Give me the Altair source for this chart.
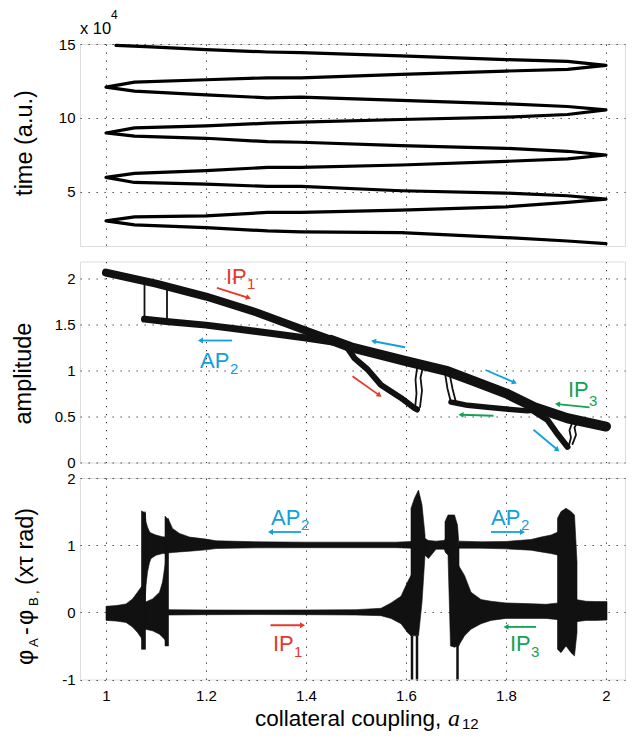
import altair as alt
import numpy as np
import pandas as pd

# ---------------- data ----------------
x_ticks = [1, 1.2, 1.4, 1.6, 1.8, 2]
time_ticks = [5, 10, 15]
amp_ticks = [0, 0.5, 1, 1.5, 2]
phase_ticks = [-1, 0, 1, 2]

# top panel: sweep of a12 vs time (x 1e4)
sweep_a12 = [
    2.0, 1.923, 1.80, 1.59, 1.39, 1.323, 1.2, 1.057, 1.0,
    1.057, 1.2, 1.323, 1.39, 1.59, 1.80, 1.923, 2.0,
    1.923, 1.80, 1.59, 1.39, 1.323, 1.2, 1.057, 1.0,
    1.057, 1.2, 1.323, 1.39, 1.59, 1.80, 1.923, 2.0,
    1.923, 1.80, 1.59, 1.39, 1.323, 1.2, 1.057, 1.0,
    1.057, 1.2, 1.323, 1.39, 1.59, 1.80, 1.923, 2.0,
    1.923, 1.80, 1.59, 1.39, 1.323, 1.2, 1.057, 1.0,
    1.057, 1.2, 1.323, 1.39, 1.59, 1.80, 1.923, 2.0,
    1.923, 1.80, 1.59, 1.39, 1.323, 1.2, 1.09, 1.02]
sweep_time = [
    1.49, 1.67, 1.90, 2.24, 2.29, 2.35, 2.58, 2.76, 3.03,
    3.30, 3.37, 3.60, 3.60, 3.76, 3.98, 4.28, 4.50,
    4.73, 4.91, 5.07, 5.36, 5.36, 5.52, 5.63, 5.97,
    6.24, 6.43, 6.65, 6.65, 6.81, 7.06, 7.22, 7.49,
    7.74, 7.94, 8.12, 8.35, 8.39, 8.62, 8.76, 8.98,
    9.32, 9.46, 9.64, 9.71, 9.89, 10.05, 10.23, 10.54,
    10.77, 10.95, 11.18, 11.40, 11.36, 11.56, 11.81, 12.08,
    12.42, 12.58, 12.71, 12.71, 12.94, 13.17, 13.28, 13.55,
    13.82, 13.94, 14.19, 14.41, 14.46, 14.62, 14.80, 14.91]

# middle panel: amplitude branches
bandA_x = [1.0, 1.1, 1.2, 1.3, 1.4, 1.45, 1.49, 1.6, 1.683, 1.737, 1.8, 1.857, 1.923, 2.0]
bandA_y = [2.06, 1.94, 1.80, 1.63, 1.43, 1.33, 1.25, 1.10, 0.99, 0.88, 0.75, 0.60, 0.48, 0.39]
bandB_x = [1.077, 1.12, 1.2, 1.325, 1.4, 1.46]
bandB_y = [1.555, 1.53, 1.49, 1.405, 1.35, 1.30]
dip1_x = [1.483, 1.497, 1.523, 1.55, 1.59, 1.617, 1.622]
dip1_y = [1.24, 1.13, 1.01, 0.84, 0.70, 0.59, 0.575]
ip3_x = [1.69, 1.70, 1.723, 1.763, 1.8, 1.843, 1.865]
ip3_y = [0.655, 0.645, 0.62, 0.60, 0.58, 0.56, 0.575]
dip3_x = [1.85, 1.883, 1.9, 1.923]
dip3_y = [0.575, 0.46, 0.33, 0.17]
jump1_x = [1.077, 1.077]; jump1_y = [1.95, 1.55]
jump2_x = [1.122, 1.122]; jump2_y = [1.89, 1.53]
jump3a_x = [1.618, 1.621, 1.619, 1.623]; jump3a_y = [0.58, 0.75, 0.90, 1.06]
jump3b_x = [1.628, 1.632, 1.629, 1.635]; jump3b_y = [0.60, 0.78, 0.92, 1.06]
jump4a_x = [1.678, 1.683, 1.690]; jump4a_y = [0.97, 0.80, 0.65]
jump4b_x = [1.687, 1.693, 1.700]; jump4b_y = [0.97, 0.80, 0.65]
jump5a_x = [1.925, 1.930, 1.927, 1.935]; jump5a_y = [0.17, 0.27, 0.35, 0.47]
jump5b_x = [1.933, 1.940, 1.937, 1.945]; jump5b_y = [0.20, 0.30, 0.38, 0.45]

# bottom panel: phase envelopes (x, low, high)
ip1fan_x = [1.0, 1.02, 1.04, 1.053, 1.063, 1.07, 1.075]
ip1fan_lo = [-0.12, -0.13, -0.15, -0.22, -0.30, -0.375, -0.45]
ip1fan_hi = [0.09, 0.10, 0.125, 0.20, 0.30, 0.375, 0.42]
spike1_x = [1.071, 1.079]; spike1_lo = [-0.55, -0.55]; spike1_hi = [1.51, 1.48]
ap2eye_x = [1.078, 1.08, 1.083, 1.087, 1.09, 1.1, 1.113, 1.121]
ap2eye_lo = [0.15, 0.40, 0.60, 0.74, 0.80, 0.85, 0.875, 0.875]
ap2eye_hi = [1.50, 1.35, 1.27, 1.20, 1.18, 1.15, 1.125, 1.12]
ip1eye_x = [1.078, 1.093, 1.107, 1.113, 1.117, 1.121]
ip1eye_lo = [-0.25, -0.275, -0.325, -0.37, -0.40, -0.45]
ip1eye_hi = [0.15, 0.20, 0.30, 0.45, 0.65, 0.85]
spike2_x = [1.118, 1.125]; spike2_lo = [-0.50, -0.50]; spike2_hi = [1.43, 1.38]
ap2mid_x = [1.124, 1.133, 1.147, 1.167, 1.2, 1.22, 1.3, 1.4, 1.5, 1.58, 1.61]
ap2mid_lo = [0.885, 0.89, 0.90, 0.91, 0.93, 0.95, 0.96, 0.962, 0.962, 0.962, 0.955]
ap2mid_hi = [1.40, 1.25, 1.175, 1.12, 1.09, 1.065, 1.05, 1.045, 1.045, 1.045, 1.055]
ip1mid_x = [1.124, 1.2, 1.3, 1.4, 1.5, 1.55, 1.57, 1.59, 1.603, 1.61]
ip1mid_lo = [-0.04, -0.035, -0.033, -0.035, -0.04, -0.05, -0.09, -0.17, -0.30, -0.35]
ip1mid_hi = [0.04, 0.035, 0.033, 0.035, 0.04, 0.06, 0.14, 0.24, 0.45, 0.55]
burst1_x = [1.61, 1.617, 1.625, 1.632, 1.638]
burst1_lo = [-0.35, -0.35, -0.35, 0.15, 0.85]
burst1_hi = [1.55, 1.70, 1.82, 1.60, 1.15]
ap2gap_x = [1.638, 1.645, 1.66, 1.675, 1.682]
ap2gap_lo = [0.85, 0.80, 0.94, 0.94, 0.90]
ap2gap_hi = [1.10, 1.07, 1.06, 1.07, 1.10]
burst2_x = [1.678, 1.684, 1.689, 1.697, 1.703, 1.706]
burst2_lo = [0.90, 0.85, -0.50, -0.52, -0.50, -0.50]
burst2_hi = [1.35, 1.45, 1.45, 1.45, 1.30, 1.00]
ap2right_x = [1.706, 1.75, 1.8, 1.85, 1.87, 1.89, 1.905]
ap2right_lo = [0.955, 0.955, 0.945, 0.925, 0.90, 0.875, 0.85]
ap2right_hi = [1.06, 1.05, 1.055, 1.085, 1.12, 1.15, 1.20]
ip3fan_x = [1.705, 1.717, 1.73, 1.75, 1.77, 1.8, 1.84, 1.88, 1.905]
ip3fan_lo = [-0.50, -0.35, -0.25, -0.17, -0.12, -0.09, -0.09, -0.09, -0.11]
ip3fan_hi = [0.70, 0.55, 0.30, 0.19, 0.165, 0.14, 0.13, 0.12, 0.14]
burst3_x = [1.903, 1.91, 1.92, 1.93, 1.937, 1.942]
burst3_lo = [-0.55, -0.60, -0.50, -0.60, -0.65, -0.30]
burst3_hi = [1.40, 1.50, 1.55, 1.50, 1.45, 0.75]
ip3end_x = [1.94, 1.96, 1.98, 2.002]
ip3end_lo = [-0.14, -0.12, -0.12, -0.115]
ip3end_hi = [0.19, 0.165, 0.16, 0.16]
drop_x = [1.612, 1.622, 1.703]
drop_top = [-0.35, -0.35, -0.50]
drop_bottom = [-1.0, -1.0, -1.0]

# annotations
series_names = ["IP1", "AP2", "IP3"]
mid_arrow_s = ["IP1", "AP2", "AP2", "IP1", "AP2", "IP3", "IP3", "AP2"]
mid_arrow_x0 = [1.222, 1.252, 1.598, 1.493, 1.759, 1.775, 1.967, 1.855]
mid_arrow_y0 = [1.895, 1.323, 1.250, 0.935, 1.003, 0.507, 0.598, 0.355]
mid_arrow_x1 = [1.285, 1.189, 1.535, 1.547, 1.817, 1.710, 1.903, 1.903]
mid_arrow_y1 = [1.786, 1.323, 1.315, 0.728, 0.868, 0.518, 0.634, 0.138]
mid_lbl_s = ["IP1", "AP2", "IP3"]
mid_lbl_main = ["IP", "AP", "IP"]
mid_lbl_x = [1.240, 1.188, 1.924]
mid_lbl_y = [1.935, 1.025, 0.710]
mid_lbl_sub = ["1", "2", "3"]
mid_sub_x = [1.282, 1.248, 1.966]
mid_sub_y = [1.880, 0.960, 0.610]

bot_arrow_s = ["AP2", "IP1", "AP2", "IP3"]
bot_arrow_x0 = [1.390, 1.329, 1.770, 1.860]
bot_arrow_y0 = [1.196, -0.192, 1.196, -0.217]
bot_arrow_x1 = [1.329, 1.393, 1.833, 1.800]
bot_arrow_y1 = [1.196, -0.192, 1.196, -0.217]
bot_lbl_s = ["AP2", "IP1", "AP2", "IP3"]
bot_lbl_main = ["AP", "IP", "AP", "IP"]
bot_lbl_x = [1.330, 1.334, 1.770, 1.808]
bot_lbl_y = [1.306, -0.580, 1.296, -0.580]
bot_lbl_sub = ["2", "1", "2", "3"]
bot_sub_x = [1.390, 1.376, 1.830, 1.850]
bot_sub_y = [1.220, -0.670, 1.220, -0.670]

# ---------------- styling ----------------
FONT = "Liberation Sans"
INK = "#111111"
RED, BLUE, GREEN = "#e5392b", "#12a0da", "#14a254"
W = 545
H_TOP, H_MID, H_BOT = 202, 201, 201.5
X_DOM = [0.948, 2.038]
TOP_DOM = [1.33, 15]
MID_DOM = [0, 2.18]
BOT_DOM = [-1, 2]
SER = alt.Scale(domain=series_names, range=[RED, BLUE, GREEN])
GRID = dict(grid=True, gridDash=[1.3, 6.7], gridColor="#333333", gridWidth=1,
            domain=False, ticks=False)


def X(field, labels):
    return alt.X(field, type="quantitative",
                 scale=alt.Scale(domain=X_DOM, nice=False, zero=False),
                 axis=alt.Axis(values=x_ticks, labels=labels, title=None,
                               labelFont=FONT, labelFontSize=15, labelColor="black",
                               labelPadding=9, labelExpr="'' + datum.value", **GRID))


def Y(field, dom, ticks):
    return alt.Y(field, type="quantitative",
                 scale=alt.Scale(domain=dom, nice=False, zero=False),
                 axis=alt.Axis(values=ticks, title=None, labelFont=FONT, labelFontSize=15,
                               labelColor="black", labelPadding=5,
                               labelExpr="'' + datum.value", **GRID))


def text_at(txt, x, y, size, angle=0, align="left", family=FONT, style="normal"):
    return alt.Chart(pd.DataFrame({"t": [txt]})).mark_text(
        font=family, fontSize=size, angle=angle, align=align, baseline="alphabetic",
        color="black", fontStyle=style
    ).encode(text="t:N", x=alt.value(x), y=alt.value(y))


def lines_df(segs):
    rows = []
    for name, xs, ys in segs:
        for i, (a, b) in enumerate(zip(xs, ys)):
            rows.append({"seg": name, "i": i, "x": a, "y": b})
    return pd.DataFrame(rows)


def arrows(s, x0, y0, x1, y1, dom, ticks, h, labels):
    df = pd.DataFrame({"s": s, "x0": x0, "y0": y0, "x1": x1, "y1": y1})
    pxx = W / (X_DOM[1] - X_DOM[0])
    pxy = h / (dom[1] - dom[0])
    df["ang"] = np.degrees(np.arctan2((df.x1 - df.x0) * pxx, (df.y1 - df.y0) * pxy)) % 360
    col = alt.Color("s:N", scale=SER, legend=None)
    shaft = alt.Chart(df).mark_rule(strokeWidth=1.8).encode(
        x=X("x0", labels), x2="x1", y=Y("y0", dom, ticks), y2="y1", color=col)
    head = alt.Chart(df).mark_point(shape="triangle-up", filled=True, size=34, opacity=1,
                                    strokeWidth=0).encode(
        x=X("x1", labels), y=Y("y1", dom, ticks),
        angle=alt.Angle("ang:Q", scale=None), color=col)
    return [shaft, head]


def labels_layer(s, main, lx, ly, sub, sx, sy, dom, ticks, labels):
    df = pd.DataFrame({"s": s, "t": main, "x": lx, "y": ly, "st": sub, "sx": sx, "sy": sy})
    col = alt.Color("s:N", scale=SER, legend=None)
    big = alt.Chart(df).mark_text(font=FONT, fontSize=22, align="left",
                                  baseline="alphabetic").encode(
        x=X("x", labels), y=Y("y", dom, ticks), text="t:N", color=col)
    small = alt.Chart(df).mark_text(font=FONT, fontSize=15, align="left",
                                    baseline="alphabetic").encode(
        x=X("sx", labels), y=Y("sy", dom, ticks), text="st:N", color=col)
    return [big, small]


# ---------------- top panel ----------------
top_df = pd.DataFrame({"x": sweep_a12, "y": sweep_time, "i": range(len(sweep_a12))})
top_line = alt.Chart(top_df).mark_line(color="black", strokeWidth=3.2,
                                       strokeJoin="round", strokeCap="round").encode(
    x=X("x", False), y=Y("y", TOP_DOM, time_ticks), order="i:Q")
top = alt.layer(
    top_line,
    text_at("time (a.u.)", -48, 99, 23.5, angle=270, align="center"),
    text_at("x 10", 0, -10, 16.5),
    text_at("4", 31, -25, 12),
).properties(width=W, height=H_TOP)

# ---------------- middle panel ----------------
def mid_lines(segs, width, flt=None):
    ch = alt.Chart(lines_df(segs))
    if flt is not None:
        ch = ch.transform_filter(flt)
    return ch.mark_line(
        color=INK, strokeWidth=width, strokeJoin="round", strokeCap="round").encode(
        x=X("x", False), y=Y("y", MID_DOM, amp_ticks), detail="seg:N", order="i:Q")

mid = alt.layer(
    mid_lines([("A", bandA_x, bandA_y)], 8, "datum.x <= 1.49"),
    mid_lines([("A", bandA_x, bandA_y)], 10, "datum.x >= 1.45"),
    mid_lines([("B", bandB_x, bandB_y)], 7),
    mid_lines([("d1", dip1_x, dip1_y), ("d3", dip3_x, dip3_y)], 6),
    mid_lines([("ip3", ip3_x, ip3_y)], 5.5),
    mid_lines([("j1", jump1_x, jump1_y), ("j2", jump2_x, jump2_y),
               ("j3a", jump3a_x, jump3a_y), ("j3b", jump3b_x, jump3b_y),
               ("j4a", jump4a_x, jump4a_y), ("j4b", jump4b_x, jump4b_y),
               ("j5a", jump5a_x, jump5a_y), ("j5b", jump5b_x, jump5b_y)], 1.8),
    *arrows(mid_arrow_s, mid_arrow_x0, mid_arrow_y0, mid_arrow_x1, mid_arrow_y1,
            MID_DOM, amp_ticks, H_MID, False),
    *labels_layer(mid_lbl_s, mid_lbl_main, mid_lbl_x, mid_lbl_y, mid_lbl_sub,
                  mid_sub_x, mid_sub_y, MID_DOM, amp_ticks, False),
    text_at("amplitude", -49, 112, 23.5, angle=270, align="center"),
).properties(width=W, height=H_MID)

# ---------------- bottom panel ----------------
segs = [
    ("ip1fan", ip1fan_x, ip1fan_lo, ip1fan_hi),
    ("spike1", spike1_x, spike1_lo, spike1_hi),
    ("ap2eye", ap2eye_x, ap2eye_lo, ap2eye_hi),
    ("ip1eye", ip1eye_x, ip1eye_lo, ip1eye_hi),
    ("spike2", spike2_x, spike2_lo, spike2_hi),
    ("ap2mid", ap2mid_x, ap2mid_lo, ap2mid_hi),
    ("ip1mid", ip1mid_x, ip1mid_lo, ip1mid_hi),
    ("burst1", burst1_x, burst1_lo, burst1_hi),
    ("ap2gap", ap2gap_x, ap2gap_lo, ap2gap_hi),
    ("burst2", burst2_x, burst2_lo, burst2_hi),
    ("ap2right", ap2right_x, ap2right_lo, ap2right_hi),
    ("ip3fan", ip3fan_x, ip3fan_lo, ip3fan_hi),
    ("burst3", burst3_x, burst3_lo, burst3_hi),
    ("ip3end", ip3end_x, ip3end_lo, ip3end_hi),
]
rows = []
for name, xs, lo, hi in segs:
    for i in range(len(xs)):
        rows.append({"seg": name, "x": xs[i], "lo": lo[i], "hi": hi[i]})
env_df = pd.DataFrame(rows)

env = alt.Chart(env_df).mark_area(color=INK, stroke=INK, strokeWidth=0.6,
                                  interpolate="linear", orient="vertical").encode(
    x=X("x", True), y=Y("lo", BOT_DOM, phase_ticks), y2="hi", detail="seg:N")
drops = alt.Chart(pd.DataFrame({"x": drop_x, "a": drop_top, "b": drop_bottom})).mark_rule(
    color=INK, strokeWidth=2.5).encode(x=X("x", True), y=Y("a", BOT_DOM, phase_ticks), y2="b")

phi_title = [
    text_at("φ", -47.5, 187, 23.5, angle=270),
    text_at("A", -42, 169, 13, angle=270),
    text_at("-", -47.5, 157, 23.5, angle=270),
    text_at("φ", -47.5, 147, 23.5, angle=270),
    text_at("B", -42, 128, 13, angle=270),
    text_at(",", -42, 116, 13, angle=270),
    text_at("(xτ rad)", -47.5, 107, 23.5, angle=270),
]
x_title = [
    text_at("collateral coupling,", 175, 248, 22.5),
    text_at("a", 368, 248, 24, family="Liberation Serif", style="italic"),
    text_at("12", 382, 250.5, 15),
]

bot = alt.layer(
    env, drops,
    *arrows(bot_arrow_s, bot_arrow_x0, bot_arrow_y0, bot_arrow_x1, bot_arrow_y1,
            BOT_DOM, phase_ticks, H_BOT, True),
    *labels_layer(bot_lbl_s, bot_lbl_main, bot_lbl_x, bot_lbl_y, bot_lbl_sub,
                  bot_sub_x, bot_sub_y, BOT_DOM, phase_ticks, True),
    *phi_title, *x_title,
).properties(width=W, height=H_BOT)

chart = alt.vconcat(top, mid, bot, spacing=15.5, bounds="flush").properties(
    padding={"left": 3, "top": 0, "right": 0, "bottom": 0}
).configure_view(stroke="black", strokeWidth=1.2).configure(font=FONT)

chart.save("out.html", embed_options={"renderer": "svg", "actions": False})
